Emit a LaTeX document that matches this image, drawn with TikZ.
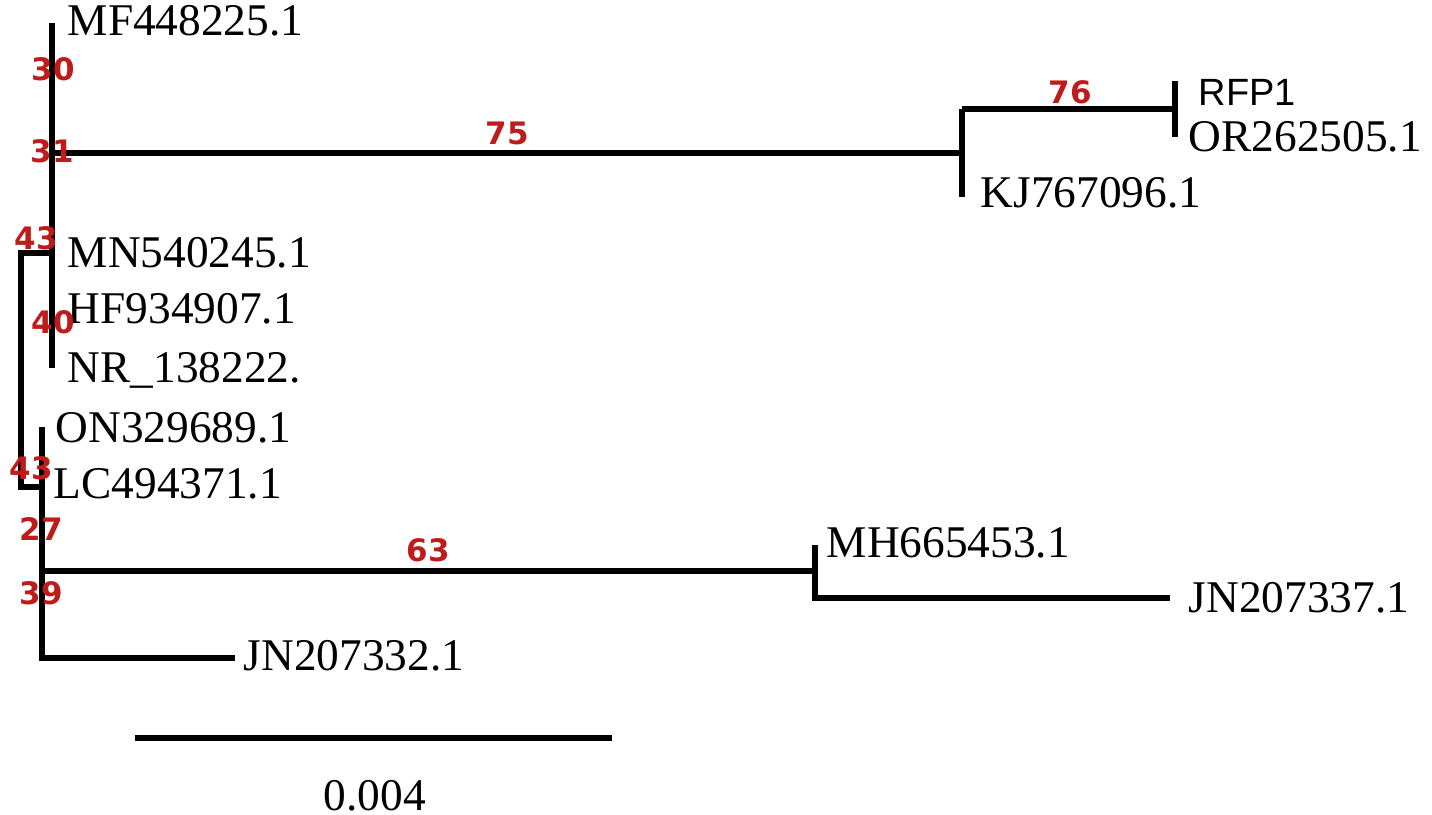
\documentclass[tikz,border=0pt]{standalone}
\usepackage{fontspec}
\setmainfont{Liberation Serif}
\newfontfamily\bootfont{DejaVu Sans}
\newfontfamily\labsans{Liberation Sans}
\usetikzlibrary{positioning}
\definecolor{bootred}{RGB}{190,28,26}

\begin{document}
\begin{tikzpicture}[x=0.01cm,y=-0.01cm,
  branch/.style={line width=1.75pt,line join=miter},
  taxon/.style={anchor=base west,inner sep=0pt,font=\fontsize{12.9}{15}\selectfont},
  boot/.style={inner sep=0pt,text=bootred,font=\bootfont\bfseries\fontsize{8.8}{10}\selectfont}]

\useasboundingbox (0,0) rectangle (1432,815);

% tree vertices
\coordinate (top) at (52,23);
\coordinate (n31) at (52,153);
\coordinate (n43a) at (52,253);
\coordinate (nr) at (52,368);
\coordinate (root) at (21,253);
\coordinate (n43b) at (21,487);
\coordinate (lc) at (42,487);
\coordinate (on) at (42,427);
\coordinate (n39) at (42,571);
\coordinate (jn332) at (42,658);
\coordinate (jn332e) at (235,658);
\coordinate (mh) at (815,571);
\coordinate (mht) at (815,545);
\coordinate (mhb) at (815,598);
\coordinate (jn337e) at (1170,598);
\coordinate (kj) at (962,153);
\coordinate (kjt) at (962,109);
\coordinate (kjb) at (962,197);
\coordinate (rf) at (1175,109);
\coordinate (rft) at (1175,81);
\coordinate (rfb) at (1175,137);

% branches
\draw[branch] (top) -- (nr);
\draw[branch] (n31) -- (kj);
\draw[branch] (kjt) -- (kjb);
\draw[branch] (kjt) -- (rf);
\draw[branch] (rft) -- (rfb);
\draw[branch] (n43a) -- (root) -- (n43b) -- (lc);
\draw[branch] (on) -- (jn332) -- (jn332e);
\draw[branch] (n39) -- (mh);
\draw[branch] (mht) -- (mhb) -- (jn337e);

% scale bar
\coordinate (sbl) at (135,738);
\coordinate (sbr) at (612,738);
\draw[line width=1.9pt] (sbl) -- (sbr);
\node[inner sep=0pt,font=\fontsize{12.9}{15}\selectfont] (sbtext) at (375,796) {0.004};

% taxa
\node[taxon] (mf) at (67,35) {MF448225.1};
\node[taxon] (mn) at (67,267) {MN540245.1};
\node[taxon] (hf) at (67,323) {HF934907.1};
\node[taxon] (nrl) at (67,382) {NR\_138222.};
\node[taxon] (onl) at (55,442) {ON329689.1};
\node[taxon] (lcl) at (53,498) {LC494371.1};
\node[taxon] (jnb) at (243,670) {JN207332.1};
\node[taxon] (mhl) at (826,557) {MH665453.1};
\node[taxon] (jnc) at (1188,612) {JN207337.1};
\node[taxon] (kjl) at (980,208) {KJ767096.1};
\node[taxon] (orl) at (1188,152) {OR262505.1};
\node[taxon,font=\labsans\fontsize{10.8}{12}\selectfont] (rfp) at (1198,105) {RFP1};

% bootstrap values
\foreach \v/\p [count=\i] in {30/{(53,69)},31/{(52,151)},43/{(36,238)},40/{(53,322)},
    43/{(31,468)},27/{(41,529)},39/{(41,593)},75/{(507,133)},76/{(1070,92)},63/{(428,550)}}
  \node[boot] (bs\i) at \p {\v};

\end{tikzpicture}
\end{document}
